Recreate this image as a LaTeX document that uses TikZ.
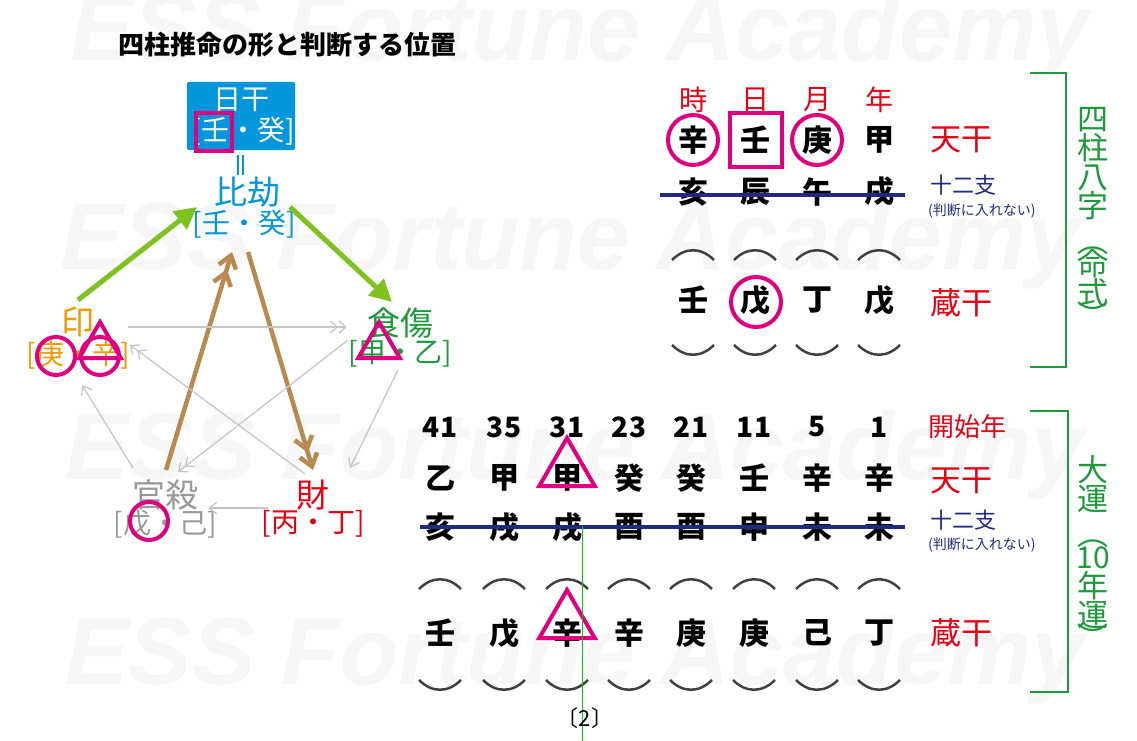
\documentclass[tikz,border=0pt]{standalone}
\usepackage{fontspec}
\setmainfont{Noto Sans CJK JP}
\newfontfamily\wmfont{Liberation Sans}
\usetikzlibrary{arrows.meta,shapes.geometric}
\definecolor{mag}{HTML}{E0007F}
\definecolor{skyb}{HTML}{0096DC}
\definecolor{navy}{HTML}{1F2A80}
\definecolor{grn}{HTML}{1E9A3C}
\definecolor{lgrn}{HTML}{7DC21E}
\definecolor{brn}{HTML}{B88A50}
\definecolor{org}{HTML}{F39800}
\definecolor{rd}{HTML}{E60012}
\newcommand{\fs}[1]{\fontsize{#1}{#1}\selectfont}
\tikzset{
 bk/.style={font=\fs{30}\bfseries, text=black, inner sep=0},
 lab/.style={font=\fs{28}, inner sep=0},
 mcirc/.style={draw=mag, line width=4pt, circle, minimum size=#1, inner sep=0},
 mtri/.style={draw=mag, line width=4pt, regular polygon, regular polygon sides=3, minimum size=#1, inner sep=0},
 arcu/.style={draw=black!75, line width=2.5pt},
 gar/.style={draw=gray!45, line width=1.3pt, -{Straight Barb[length=8pt,width=12pt]}},
 gar2/.style={draw=gray!45, line width=1.3pt, -{Straight Barb[length=7pt,width=12pt]Straight Barb[length=7pt,width=12pt]}},
 grar/.style={draw=lgrn, line width=5pt, -{Triangle[length=22pt,width=22pt]}},
 brar/.style={draw=brn, line width=4.5pt, -{Straight Barb[length=12pt,width=18pt]Straight Barb[length=12pt,width=18pt]}},
 wm/.style={font=\wmfont\fs{95}\bfseries\itshape, text=gray!7, inner sep=0}
}
\begin{document}
\begin{tikzpicture}[x=1pt,y=-1pt]
\useasboundingbox (0,0) rectangle (1137,741);
% watermark
\node[wm] (w1) at (580,36) {ESS Fortune Academy};
\node[wm] (w2) at (570,245) {ESS Fortune Academy};
\node[wm] (w3) at (575,455) {ESS Fortune Academy};
\node[wm] (w4) at (575,660) {ESS Fortune Academy};
% title
\node[font=\fs{26}\bfseries, anchor=west, inner sep=0] (title) at (118,45) {四柱推命の形と判断する位置};
% day stem box
\node[fill=skyb, rounded corners=2pt, minimum width=108pt, minimum height=68pt] (box) at (241,116) {};
\node[lab, text=white] (nikkan) at (241,100) {日干};
\node[lab, text=white] (nk2) at (243,131) {[壬・癸]};
\node[draw=mag, line width=4pt, minimum width=36pt, minimum height=38pt] (sq1) at (214,132) {};
\draw[skyb, line width=1.5pt] (238,155) -- (238,175) (243,155) -- (243,175);
\node[lab, text=skyb, font=\fs{33}] (hk) at (247,192) {比劫};
\node[lab, text=skyb] (hk2) at (244,224) {[壬・癸]};
\node[lab, text=org, font=\fs{33}] (in) at (78,322) {印};
\node[lab, text=org] (in2) at (78,355) {[庚・辛]};
\node[mcirc=38pt] (c1) at (56,356) {};
\node[mcirc=38pt] (c2) at (100,356) {};
\node[mtri=48pt] (t1) at (100,346) {};
\node[lab, text=grn, font=\fs{33}] (sh) at (400,323) {食傷};
\node[lab, text=grn] (sh2) at (400,354) {[甲・乙]};
\node[mtri=48pt] (t2) at (379,346) {};
\node[lab, text=gray!80, font=\fs{33}] (ks) at (165,495) {官殺};
\node[lab, text=gray!80] (ks2) at (165,524) {[戊・己]};
\node[mcirc=38pt] (c3) at (149,521) {};
\node[lab, text=rd, font=\fs{33}] (zai) at (313,495) {財};
\node[lab, text=rd] (zai2) at (313,524) {[丙・丁]};
% arrows
\coordinate (a1) at (78,300); \coordinate (a2) at (197,207);
\coordinate (a3) at (290,207); \coordinate (a4) at (392,302);
\draw[grar] (a1) -- (a2);
\draw[grar] (a3) -- (a4);
\coordinate (b1) at (166,470); \coordinate (b2) at (232,252);
\coordinate (b3) at (248,252); \coordinate (b4) at (313,470);
\draw[brar] (b1) -- (b2);
\draw[brar] (b3) -- (b4);
\coordinate (g1) at (128,327); \coordinate (g2) at (347,327);
\draw[gar2] (g1) -- (g2);
\coordinate (g3) at (305,474); \coordinate (g4) at (130,345);
\draw[gar2] (g3) -- (g4);
\coordinate (g5) at (348,340); \coordinate (g6) at (178,472);
\draw[gar2] (g5) -- (g6);
\coordinate (g7) at (398,370); \coordinate (g8) at (350,468);
\draw[gar] (g7) -- (g8);
\coordinate (g9) at (133,468); \coordinate (g10) at (82,385);
\draw[gar] (g9) -- (g10);
\coordinate (g11) at (268,508); \coordinate (g12) at (208,508);
\draw[gar] (g11) -- (g12);
% top table
\foreach \x/\p/\a/\b/\c [count=\i] in {693/時/辛/亥/壬,755/日/壬/辰/戊,817/月/庚/午/丁,879/年/甲/戌/戊}{
  \node[lab, text=rd] (p\i) at (\x,100) {\p};
  \node[bk] (ta\i) at (\x,140) {\a};
  \node[bk] (tb\i) at (\x,192) {\b};
  \node[bk] (tc\i) at (\x,300) {\c};
  \draw[arcu] (\x-21,260) .. controls (\x-8,247) and (\x+8,247) .. (\x+21,260);
  \draw[arcu] (\x-21,345) .. controls (\x-8,358) and (\x+8,358) .. (\x+21,345);
}
\node[mcirc=50pt] (c4) at (693,140) {};
\node[mcirc=50pt] (c5) at (817,140) {};
\node[draw=mag, line width=4pt, minimum width=52pt, minimum height=54pt] (sq2) at (756,140) {};
\node[mcirc=50pt] (c6) at (756,302) {};
\coordinate (l1) at (660,195); \coordinate (l2) at (905,195);
\draw[navy, line width=4pt] (l1) -- (l2);
\node[lab, text=rd, font=\fs{31}, anchor=west] (tk1) at (930,140) {天干};
\node[lab, text=navy, font=\fs{22}, anchor=west] (jn1) at (930,185) {十二支};
\node[lab, text=navy, font=\fs{14}, anchor=west] (hd1) at (928,211) {(判断に入れない)};
\node[lab, text=rd, font=\fs{31}, anchor=west] (zk1) at (930,303) {蔵干};
\coordinate (k1) at (1030,73); \coordinate (k2) at (1066,367);
\draw[grn, line width=1.8pt] (k1) -| (k2) -- (k2 -| k1);
\node[lab, text=grn, align=center, font=\fs{31}, text width=34pt] (v1) at (1093,217) {四\\[-2pt]柱\\[-2pt]八\\[-2pt]字\\[4pt]︵\\[-8pt]命\\[-2pt]式\\[-8pt]︶};
% bottom table
\foreach \x/\n/\a/\b/\c [count=\i] in {440/41/乙/亥/壬,504/35/甲/戌/戊,567/31/甲/戌/辛,629/23/癸/酉/辛,691/21/癸/酉/庚,754/11/壬/申/庚,817/5/辛/未/己,879/1/辛/未/丁}{
  \node[bk, font=\fs{28}\bfseries] (n\i) at (\x,427) {\n};
  \node[bk] (da\i) at (\x,478) {\a};
  \node[bk] (db\i) at (\x,527) {\b};
  \node[bk] (dc\i) at (\x,633) {\c};
  \draw[arcu] (\x-21,589) .. controls (\x-8,576) and (\x+8,576) .. (\x+21,589);
  \draw[arcu] (\x-21,680) .. controls (\x-8,693) and (\x+8,693) .. (\x+21,680);
}
\node[mtri=64pt] (t3) at (567,470) {};
\node[mtri=64pt] (t4) at (567,622) {};
\coordinate (l3) at (420,527); \coordinate (l4) at (905,527);
\draw[navy, line width=4pt] (l3) -- (l4);
\node[lab, text=rd, font=\fs{26}, anchor=west] (ks1) at (928,427) {開始年};
\node[lab, text=rd, font=\fs{31}, anchor=west] (tk2) at (930,481) {天干};
\node[lab, text=navy, font=\fs{22}, anchor=west] (jn2) at (930,520) {十二支};
\node[lab, text=navy, font=\fs{14}, anchor=west] (hd2) at (928,545) {(判断に入れない)};
\node[lab, text=rd, font=\fs{31}, anchor=west] (zk2) at (930,633) {蔵干};
\coordinate (k3) at (1030,411); \coordinate (k4) at (1068,692);
\draw[grn, line width=1.8pt] (k3) -| (k4) -- (k4 -| k3);
\node[lab, text=grn, align=center, font=\fs{31}, text width=34pt] (v2) at (1093,552) {大\\[-2pt]運\\[4pt]︵\\[-8pt]{\fs{30}10}\\[-2pt]年\\[-2pt]運\\[-8pt]︶};
\coordinate (m1) at (582,526); \coordinate (m2) at (582,741);
\draw[green!80!black, line width=0.8pt] (m1) -- (m2);
\node[lab, font=\fs{22}] (pg) at (585,718) {〔2〕};
\end{tikzpicture}
\end{document}
